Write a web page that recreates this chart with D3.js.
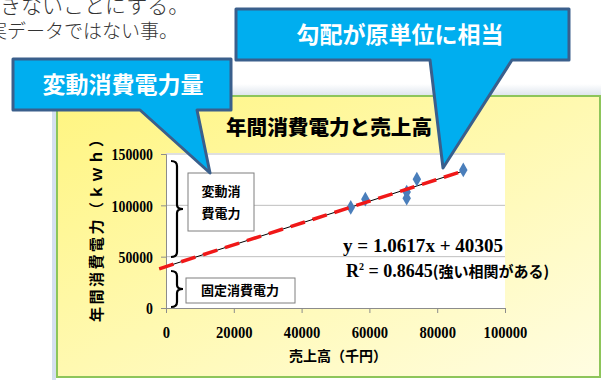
<!DOCTYPE html>
<html>
<head>
<meta charset="utf-8">
<script src="https://cdn.jsdelivr.net/npm/d3@7"></script>
<style>
  html, body { margin: 0; padding: 0; background: #fff; }
  svg { display: block; }
</style>
</head>
<body>
<div id="chart"></div>
<script>
// data
var salesValues = [54500, 58800, 71000, 71000, 74000, 87700];   // 売上高（千円）
var powerValues = [98000, 106000, 113000, 107000, 125500, 134500]; // 年間消費電力（kwh）
var xTicks = [0, 20000, 40000, 60000, 80000, 100000];
var yTicks = [0, 50000, 100000, 150000];
var slope = 1.0617, intercept = 40305, rSquared = 0.8645;
var trendRange = [-2000, 87700];

function draw() {
  var W = 603, H = 380;
  var svg = d3.select("#chart").append("svg")
    .attr("width", W).attr("height", H);

  var defs = svg.append("defs");
  var bg = defs.append("linearGradient").attr("id", "bg")
    .attr("x1", "0").attr("y1", "0").attr("x2", "1").attr("y2", "1");
  bg.append("stop").attr("offset", "0%").attr("stop-color", "#fff580");
  bg.append("stop").attr("offset", "100%").attr("stop-color", "#fffde2");
  var shade = defs.append("linearGradient").attr("id", "shade")
    .attr("x1", "0").attr("y1", "0").attr("x2", "0").attr("y2", "1");
  shade.append("stop").attr("offset", "0%").attr("stop-color", "#ffffff");
  shade.append("stop").attr("offset", "100%").attr("stop-color", "#dfe6ee");

  // text at the top of the page (cut off)
  svg.append("text").attr("x", 0).attr("y", 13)
    .style("font-family", "Noto Sans CJK JP").style("font-size", "21px")
    .style("font-weight", 300).attr("fill", "#333")
    .text("きないことにする。");
  svg.append("text").attr("x", -12).attr("y", 38)
    .style("font-family", "Noto Sans CJK JP").style("font-size", "19px")
    .style("font-weight", 300).attr("fill", "#333")
    .text("実データではない事。");

  // chart area
  svg.append("rect").attr("x", 56).attr("y", 84).attr("width", 545).attr("height", 11)
    .attr("fill", "url(#shade)");
  svg.append("rect").attr("x", 52).attr("y", 95).attr("width", 4).attr("height", 285)
    .attr("fill", "#d5e0f0");
  svg.append("rect").attr("x", 57).attr("y", 96).attr("width", 543).attr("height", 281)
    .attr("fill", "url(#bg)").attr("stroke", "#8dc55a").attr("stroke-width", 2);

  var pl = 166, pr = 505, pt = 154, pb = 308;
  var x = d3.scaleLinear().domain([0, 100000]).range([pl, pr]);
  var y = d3.scaleLinear().domain([0, 150000]).range([pb, pt]);

  svg.append("rect").attr("x", pl).attr("y", pt - 1)
    .attr("width", pr - pl).attr("height", pb - pt + 1).attr("fill", "#fff");

  // gridlines
  svg.append("g").selectAll("line").data(yTicks.filter(function(d) { return d > 0; }))
    .enter().append("line")
    .attr("x1", pl).attr("x2", pr)
    .attr("y1", function(d) { return y(d); }).attr("y2", function(d) { return y(d); })
    .attr("stroke", "#bfbfbf").attr("stroke-width", 1);

  // axes
  var xAxis = svg.append("g").attr("transform", "translate(0," + pb + ")")
    .call(d3.axisBottom(x).tickValues(xTicks).tickSize(5).tickFormat(d3.format("d")));
  var yAxis = svg.append("g").attr("transform", "translate(" + pl + ",0)")
    .call(d3.axisLeft(y).tickValues(yTicks).tickSize(5).tickFormat(d3.format("d")));
  [xAxis, yAxis].forEach(function(a) {
    a.select(".domain").attr("stroke", "#8c8c8c");
    a.selectAll(".tick line").attr("stroke", "#8c8c8c");
    a.selectAll("text").attr("fill", "#000")
      .style("font-family", "Liberation Serif").style("font-size", "17px")
      .style("font-weight", "bold");
  });
  xAxis.selectAll("text").attr("y", 30).attr("dy", 0)
    .attr("textLength", function(d) { return String(d).length * 7.3; })
    .attr("lengthAdjust", "spacingAndGlyphs");
  yAxis.selectAll("text").attr("x", -13).attr("dy", "0.34em")
    .attr("textLength", function(d) { return String(d).length * 6.9; })
    .attr("lengthAdjust", "spacingAndGlyphs");

  // trendline: thin black under red dashes
  var trend = trendRange.map(function(v) { return [x(v), y(slope * v + intercept)]; });
  svg.append("line")
    .attr("x1", trend[0][0]).attr("y1", trend[0][1])
    .attr("x2", trend[1][0]).attr("y2", trend[1][1])
    .attr("stroke", "#000").attr("stroke-width", 1);

  // points
  svg.append("g").selectAll("path").data(salesValues).enter().append("path")
    .attr("d", d3.symbol().type(d3.symbolDiamond).size(62))
    .attr("transform", function(d, i) {
      return "translate(" + x(d) + "," + y(powerValues[i]) + ")";
    })
    .attr("fill", "#4a7ebb");

  svg.append("line")
    .attr("x1", trend[0][0]).attr("y1", trend[0][1])
    .attr("x2", trend[1][0]).attr("y2", trend[1][1])
    .attr("stroke", "#f01818").attr("stroke-width", 3.5)
    .attr("stroke-dasharray", "15,8");

  // chart title and axis titles
  svg.append("text").attr("x", 329).attr("y", 135).attr("text-anchor", "middle")
    .style("font-family", "Noto Sans CJK JP").style("font-size", "20px")
    .style("font-weight", 900)
    .attr("textLength", 206).attr("lengthAdjust", "spacingAndGlyphs")
    .text("年間消費電力と売上高");
  svg.append("text")
    .attr("transform", "translate(102,227) rotate(-90)")
    .attr("text-anchor", "middle")
    .style("font-family", "Noto Sans CJK JP").style("font-size", "15px")
    .style("font-weight", "bold")
    .attr("textLength", 190).attr("lengthAdjust", "spacing")
    .text("年間消費電力（ｋｗｈ）");
  svg.append("text").attr("x", 338).attr("y", 361).attr("text-anchor", "middle")
    .style("font-family", "Noto Sans CJK JP").style("font-size", "14px")
    .style("font-weight", "bold")
    .text("売上高（千円）");

  // regression labels
  svg.append("text").attr("x", 503).attr("y", 252).attr("text-anchor", "end")
    .style("font-family", "Liberation Serif").style("font-size", "18px")
    .style("font-weight", "bold")
    .attr("textLength", 160).attr("lengthAdjust", "spacingAndGlyphs")
    .text("y = " + slope + "x + " + intercept);
  var r2 = svg.append("text").attr("x", 346).attr("y", 277)
    .style("font-family", "Liberation Serif").style("font-size", "18px")
    .style("font-weight", "bold");
  r2.append("tspan").text("R");
  r2.append("tspan").attr("dy", -7).style("font-size", "10px").text("2");
  r2.append("tspan").attr("dy", 7).text(" = " + rSquared);
  r2.append("tspan").style("font-family", "Noto Sans CJK JP").style("font-size", "15px")
    .text("(強い相関がある)");

  // braces
  function brace(x0, y0, y1) {
    var m = (y0 + y1) / 2;
    return "M" + (x0 - 6) + "," + y0 + " Q" + x0 + "," + y0 + " " + x0 + "," + (y0 + 5) +
      " V" + (m - 4) + " Q" + x0 + "," + m + " " + (x0 + 6) + "," + m +
      " Q" + x0 + "," + m + " " + x0 + "," + (m + 4) +
      " V" + (y1 - 5) + " Q" + x0 + "," + y1 + " " + (x0 - 6) + "," + y1;
  }
  svg.append("path").attr("d", brace(177, 161, 257))
    .attr("fill", "none").attr("stroke", "#000").attr("stroke-width", 2.2);
  svg.append("path").attr("d", brace(177, 271, 307))
    .attr("fill", "none").attr("stroke", "#000").attr("stroke-width", 2.2);

  // label boxes
  svg.append("rect").attr("x", 188).attr("y", 173).attr("width", 66).attr("height", 58)
    .attr("fill", "#fff").attr("stroke", "#7f7f7f");
  [["変動消", 196], ["費電力", 218]].forEach(function(t) {
    svg.append("text").attr("x", 221).attr("y", t[1]).attr("text-anchor", "middle")
      .style("font-family", "Noto Sans CJK JP").style("font-size", "13px")
      .style("font-weight", "bold").text(t[0]);
  });
  svg.append("rect").attr("x", 186).attr("y", 278).attr("width", 109).attr("height", 25)
    .attr("fill", "#fff").attr("stroke", "#7f7f7f");
  svg.append("text").attr("x", 240).attr("y", 295).attr("text-anchor", "middle")
    .style("font-family", "Noto Sans CJK JP").style("font-size", "13px")
    .style("font-weight", "bold").text("固定消費電力");

  // callouts
  function callout(x0, y0, x1, y1, tl, tr, tip) {
    return "M" + x0 + "," + y0 + " H" + x1 + " V" + y1 + " H" + tr +
      " L" + tip[0] + "," + tip[1] + " L" + tl + "," + y1 + " H" + x0 + " Z";
  }
  svg.append("path").attr("d", callout(13, 59, 231, 110, 140, 197, [210, 173]))
    .attr("fill", "#00aeef").attr("stroke", "#3a5f8c").attr("stroke-width", 3)
    .attr("stroke-linejoin", "round");
  svg.append("text").attr("x", 123).attr("y", 93).attr("text-anchor", "middle")
    .style("font-family", "Noto Sans CJK JP").style("font-size", "23px")
    .style("font-weight", "bold").attr("fill", "#fff")
    .text("変動消費電力量");
  svg.append("path").attr("d", callout(236, 9, 569, 60, 430, 512, [443, 168]))
    .attr("fill", "#00aeef").attr("stroke", "#3a5f8c").attr("stroke-width", 3)
    .attr("stroke-linejoin", "round");
  svg.append("text").attr("x", 400).attr("y", 43).attr("text-anchor", "middle")
    .style("font-family", "Noto Sans CJK JP").style("font-size", "23px")
    .style("font-weight", "bold").attr("fill", "#fff")
    .text("勾配が原単位に相当");
}
draw();
</script>
</body>
</html>
